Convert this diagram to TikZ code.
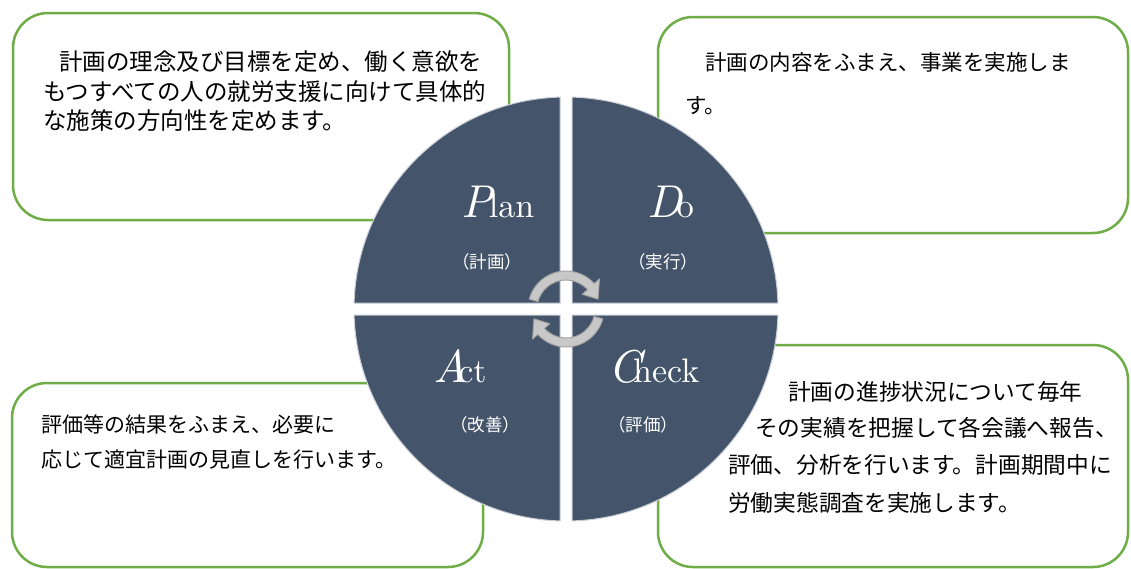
\documentclass[tikz,border=0pt]{standalone}
\usepackage{fontspec}
\newfontfamily\jp{Noto Sans CJK JP}
\newfontface\lmten{lmroman10-regular.otf}
\newfontface\lmtenit{lmroman10-italic.otf}
\usetikzlibrary{calc}
\definecolor{slate}{HTML}{44546A}
\definecolor{boxgreen}{HTML}{70AD47}
\definecolor{arrfill}{HTML}{C8C8C8}
\definecolor{arrdraw}{HTML}{A3A3A3}
\definecolor{quadedge}{HTML}{C9CED6}
\newcommand{\jpf}[1]{\jp\fontsize{#1}{#1}\selectfont}
\newcommand{\pdcalabel}[3]{{\lmtenit\fontsize{46}{46}\selectfont #1}\kern#3pt{\lmten\fontsize{34}{34}\selectfont #2}}
\begin{document}
\begin{tikzpicture}[x=1pt,y=-1pt,
  greenbox/.style={draw=boxgreen, line width=2.5pt, rounded corners=35pt, fill=white, inner sep=0pt},
  jtxt/.style={anchor=base west, inner sep=0pt, text=black},
  quad/.style={fill=slate, draw=quadedge, line width=1pt},
  pdca/.style={anchor=base west, inner sep=0pt, text=white},
  sublabel/.style={anchor=base, inner sep=0pt, text=white, font=\jpf{17.5}},
  cyclearrow/.style={fill=arrfill, draw=arrdraw, line width=1pt, line join=round}]
\useasboundingbox (0,0) rectangle (1131,568);
\fill[white] (0,0) rectangle (1131,568);

% boxes
\node[greenbox, minimum width=496pt, minimum height=207pt] (boxTL) at (261,116.5) {};
\node[greenbox, minimum width=470pt, minimum height=216pt] (boxTR) at (893,125) {};
\node[greenbox, minimum width=471pt, minimum height=184pt] (boxBL) at (247.5,475) {};
\node[greenbox, minimum width=470pt, minimum height=222pt] (boxBR) at (893,456) {};

% box texts
\node[jtxt, font=\jpf{23.5}] (tl1) at (59,70.7) {計画の理念及び目標を定め、働く意欲を};
\node[jtxt, font=\jpf{23.5}] (tl2) at (43,100.7) {もつすべての人の就労支援に向けて具体的};
\node[jtxt, font=\jpf{23.5}] (tl3) at (43,129.7) {な施策の方向性を定めます。};

\node[jtxt, font=\jpf{21.5}] (tr1) at (705,70) {計画の内容をふまえ、事業を実施しま};
\node[jtxt, font=\jpf{21.5}] (tr2) at (685,113) {す。};

\node[jtxt, font=\jpf{21}] (bl1) at (41,432.8) {評価等の結果をふまえ、必要に};
\node[jtxt, font=\jpf{21}] (bl2) at (41,467.8) {応じて適宜計画の見直しを行います。};

\node[jtxt, font=\jpf{22.7}] (br1) at (788,400.4) {計画の進捗状況について毎年};
\node[jtxt, font=\jpf{22.7}] (br2) at (755,436.4) {その実績を把握して各会議へ報告、};
\node[jtxt, font=\jpf{22.7}] (br3) at (728,473.4) {評価、分析を行います。計画期間中に};
\node[jtxt, font=\jpf{22.7}] (br4) at (728,511.4) {労働実態調査を実施します。};

% circle quadrants
\coordinate (O) at (566,309);
\path[quad] (560,303) -- (354.085,303) arc[start angle=178.378, end angle=91.622, radius=212pt] -- cycle;
\path[quad] (572,303) -- (572,97.085) arc[start angle=88.378, end angle=1.622, radius=212pt] -- cycle;
\path[quad] (572,315) -- (777.915,315) arc[start angle=-1.622, end angle=-88.378, radius=212pt] -- cycle;
\path[quad] (560,315) -- (560,520.915) arc[start angle=-91.622, end angle=-178.378, radius=212pt] -- cycle;

% PDCA labels
\node[pdca] (plan) at (461.5,217) {\pdcalabel{P}{lan}{-4}};
\node[pdca] (do) at (647,217) {\pdcalabel{D}{o}{-5}};
\node[pdca] (act) at (433,382) {\pdcalabel{A}{ct}{-9}};
\node[pdca] (check) at (608,382) {\pdcalabel{C}{heck}{-8}};

\node[sublabel] (plansub) at (487,268.5) {（計画）};
\node[sublabel] (dosub) at (663,268.5) {（実行）};
\node[sublabel] (actsub) at (485,431.5) {（改善）};
\node[sublabel] (checksub) at (643,431.5) {（評価）};

% cycle arrows
\path[cyclearrow] ($(O)+(165:38pt)$) arc[start angle=165, end angle=42, radius=38pt]
  -- ($(O)+(42:45pt)$) -- ($(O)+(17:33.5pt)$) -- ($(O)+(42:22pt)$) -- ($(O)+(42:29pt)$)
  arc[start angle=42, end angle=165, radius=29pt] -- cycle;
\path[cyclearrow] ($(O)+(-15:38pt)$) arc[start angle=-15, end angle=-138, radius=38pt]
  -- ($(O)+(-138:45pt)$) -- ($(O)+(-163:33.5pt)$) -- ($(O)+(-138:22pt)$) -- ($(O)+(-138:29pt)$)
  arc[start angle=-138, end angle=-15, radius=29pt] -- cycle;
\end{tikzpicture}
\end{document}
